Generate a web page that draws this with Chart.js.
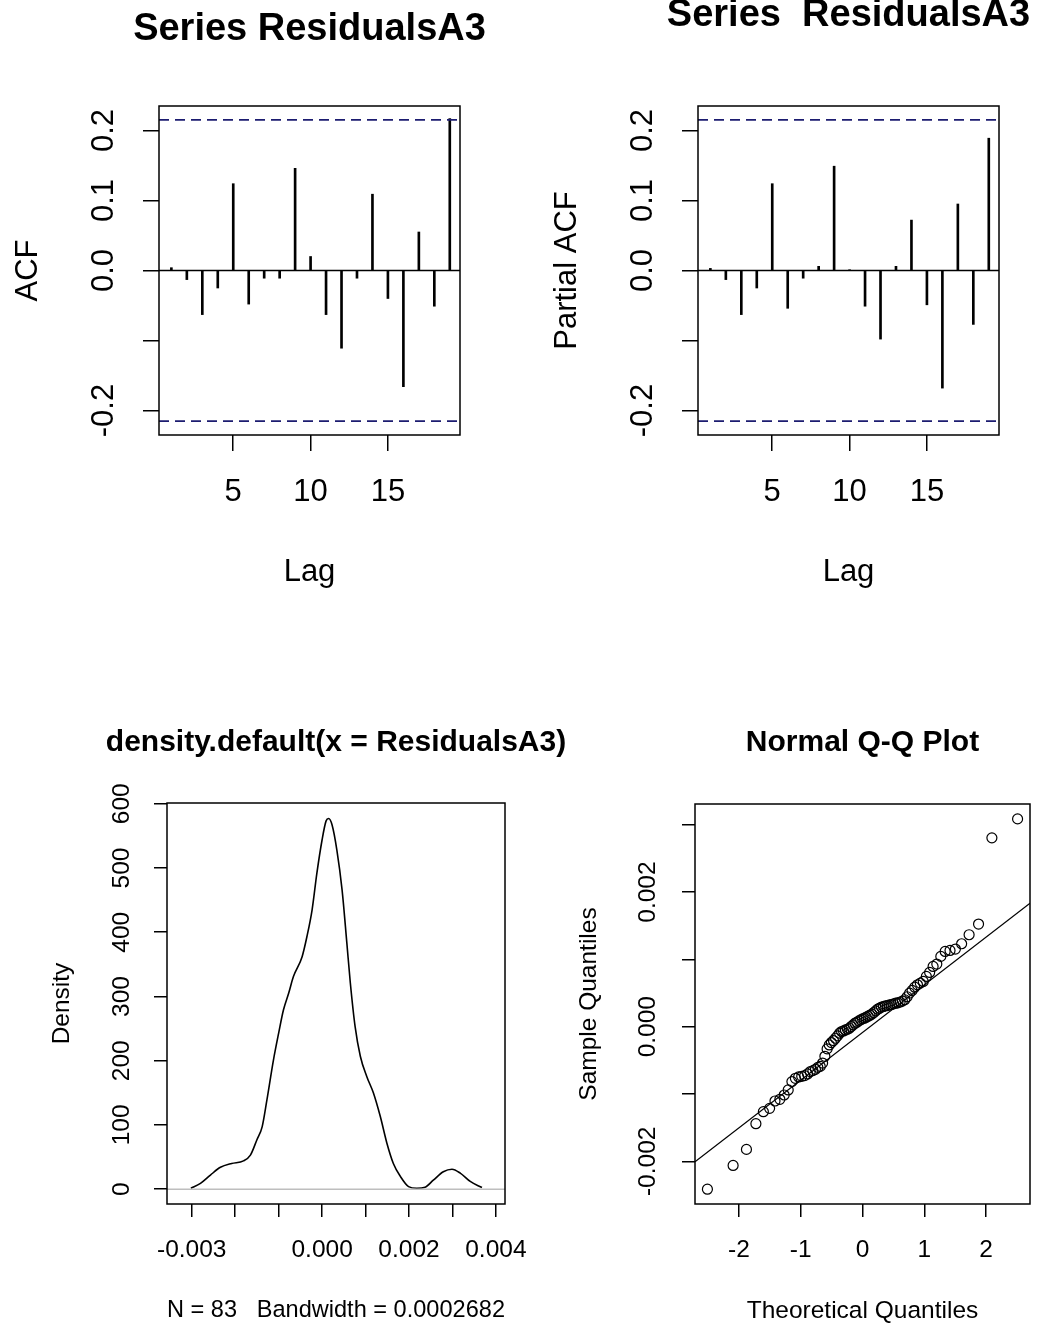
<!DOCTYPE html>
<html><head><meta charset="utf-8">
<script src="https://cdn.jsdelivr.net/npm/chart.js@4.4.1/dist/chart.umd.min.js"></script>
<style>
html,body{margin:0;padding:0;background:#fff;}
body{width:1037px;height:1327px;position:relative;overflow:hidden;}
canvas{position:absolute;}
</style></head><body>
<canvas id="c1"></canvas>
<canvas id="c2"></canvas>
<canvas id="c3"></canvas>
<canvas id="c4"></canvas>
<script>
// ---------- data ----------
const acfLags = [1,2,3,4,5,6,7,8,9,10,11,12,13,14,15,16,17,18,19];
const acfValues = [0.004,-0.013,-0.063,-0.025,0.124,-0.048,-0.011,-0.011,0.146,0.020,-0.063,-0.111,-0.011,0.109,-0.040,-0.166,0.055,-0.051,0.217];
const pacfValues = [0.003,-0.013,-0.063,-0.025,0.124,-0.054,-0.011,0.006,0.149,0.001,-0.051,-0.098,0.006,0.072,-0.049,-0.168,0.095,-0.077,0.189];
const confLimit = 0.2151;
const lagTicks = [5,10,15];
const acfYTicks = [-0.2,-0.1,0,0.1,0.2];
const acfYTickLabels = [-0.2,0,0.1,0.2];

const densityX = [-0.00302,-0.00280,-0.00257,-0.00234,-0.00208,-0.00181,-0.00165,-0.00150,-0.00138,-0.00127,-0.00112,-0.00100,-0.00089,-0.00077,-0.00066,-0.00046,-0.00035,-0.00023,-0.00012,0.00000,0.00009,0.00015,0.00023,0.00034,0.00046,0.00057,0.00065,0.00076,0.00088,0.00103,0.00118,0.00134,0.00149,0.00164,0.00180,0.00199,0.00218,0.00237,0.00256,0.00279,0.00299,0.00318,0.00341,0.00368];
const densityY = [1.5,9,22,34,40,44,53,77,97,139,201,243,279,305,331,362,393,435,492,544,573,577,567,528,466,383,321,253,207,175,150,113,72,40,20,4,1.5,3,14,27,31,25,12,2.5];
const densityXTicks = [-0.003,-0.002,-0.001,0,0.001,0.002,0.003,0.004];
const densityXTickLabels = [-0.003,0,0.002,0.004];
const densityYTicks = [0,100,200,300,400,500,600];

const qqTheoretical = [-2.511,-2.095,-1.879,-1.726,-1.605,-1.504,-1.417,-1.338,-1.268,-1.203,-1.143,-1.087,-1.034,-0.984,-0.936,-0.890,-0.846,-0.803,-0.762,-0.723,-0.684,-0.646,-0.609,-0.573,-0.538,-0.504,-0.470,-0.437,-0.404,-0.371,-0.339,-0.307,-0.276,-0.245,-0.214,-0.183,-0.152,-0.121,-0.091,-0.060,-0.030,0,0.030,0.060,0.091,0.121,0.152,0.183,0.214,0.245,0.276,0.307,0.339,0.371,0.404,0.437,0.470,0.504,0.538,0.573,0.609,0.646,0.684,0.723,0.762,0.803,0.846,0.890,0.936,0.984,1.034,1.087,1.143,1.203,1.268,1.338,1.417,1.504,1.605,1.726,1.879,2.095,2.511];
const qqSample = [-0.002414,-0.002061,-0.001823,-0.001441,-0.001263,-0.001213,-0.001104,-0.001079,-0.001015,-0.000940,-0.000816,-0.000767,-0.000747,-0.000737,-0.000727,-0.000702,-0.000668,-0.000653,-0.000633,-0.000605,-0.000590,-0.000540,-0.000440,-0.000330,-0.000271,-0.000236,-0.000206,-0.000172,-0.000137,-0.000097,-0.000072,-0.000063,-0.000048,-0.000038,-0.000023,0.000002,0.000027,0.000052,0.000066,0.000086,0.000101,0.000116,0.000126,0.000141,0.000156,0.000171,0.000186,0.000210,0.000235,0.000260,0.000275,0.000290,0.000300,0.000310,0.000314,0.000324,0.000329,0.000339,0.000349,0.000355,0.000367,0.000380,0.000400,0.000445,0.000498,0.000538,0.000587,0.000622,0.000647,0.000672,0.000746,0.000806,0.000895,0.000930,0.001044,0.001118,0.001133,0.001153,0.001232,0.001366,0.001525,0.002805,0.003087];
const qqXTicks = [-2,-1,0,1,2];
const qqYTicks = [-0.002,-0.001,0,0.001,0.002,0.003];
const qqYTickLabels = [-0.002,0,0.002];

// ---------- helpers ----------
const FONT = '"Liberation Sans", Arial, Helvetica, sans-serif';
const boxPlugin = {id:'rbox', afterDatasetsDraw(chart){
  const a = chart.chartArea, c = chart.ctx;
  c.save(); c.strokeStyle = '#000'; c.lineWidth = 1.5;
  c.strokeRect(a.left, a.top, a.right - a.left, a.bottom - a.top);
  c.restore();
}};
const near = (v, arr) => arr.some(t => Math.abs(t - v) < 1e-9);
function textWidth(txt, size){
  const c = document.createElement('canvas').getContext('2d');
  c.font = size + 'px ' + FONT;
  return c.measureText(txt).width;
}
// p.page: plot box in page coords; p.cLeft/p.cTop/p.H: canvas origin and height.
// The canvas is symmetric around the plot centre (an empty right-hand spacer axis balances
// the left axis) so the full-width title is centred on the plot, as in R.
function panel(id, p){
  const cv = document.getElementById(id);
  const pg = p.page;
  const W = Math.round(2 * ((pg.left + pg.right) / 2 - p.cLeft));
  const H = p.H;
  cv.width = W; cv.height = H;
  cv.style.left = p.cLeft + 'px'; cv.style.top = p.cTop + 'px';
  const a = {left:pg.left - p.cLeft, right:pg.right - p.cLeft, top:pg.top - p.cTop, bottom:pg.bottom - p.cTop};
  const tlh = p.titleSize * 1.2, alh = p.axisSize * 1.2;
  const titleY = p.titleY - p.cTop, xLabelY = p.xLabelY - p.cTop, xTitleY = p.xTitleY - p.cTop;
  const yLabelX = p.yLabelX - p.cLeft, yTitleX = p.yTitleX - p.cLeft;
  const yLabs = p.yTicks.map(v => near(v, p.yLabels) ? p.yFmt(v) : '');
  const widest = Math.max(...yLabs.map(s => textWidth(s, p.axisSize)));
  const gridCfg = {drawOnChartArea:false, drawTicks:true, tickLength:p.tickLen, color:'#000', lineWidth:1.5, offset:false};
  return new Chart(cv, {
    type: 'scatter',
    data: {datasets: p.datasets},
    options: {
      responsive:false, animation:false, devicePixelRatio:1,
      layout:{padding:0},
      plugins:{
        legend:{display:false}, tooltip:{enabled:false},
        title:{display:true, text:p.title, fullSize:true, color:'#000',
          font:{family:FONT, size:p.titleSize, weight:'bold', lineHeight:1.2},
          padding:{top:titleY - tlh/2, bottom:a.top - (titleY - tlh/2) - tlh}}
      },
      scales:{
        x:{type:'linear', position:'bottom', min:p.xMin, max:p.xMax, offset:false,
          afterFit(s){ s.height = H - a.bottom; },
          afterBuildTicks(s){ s.ticks = p.xTicks.map(v => ({value:v})); },
          border:{display:false}, grid:gridCfg,
          ticks:{autoSkip:false, maxRotation:0, color:'#000',
            font:{family:FONT, size:p.axisSize, lineHeight:1.2},
            padding:xLabelY - a.bottom - p.tickLen - alh/2,
            callback:(v) => near(v, p.xLabels) ? p.xFmt(v) : ''},
          title:{display:true, text:p.xTitle, color:'#000',
            font:{family:FONT, size:p.axisSize, lineHeight:1.2},
            padding:{top:0, bottom:H - xTitleY - alh/2}}
        },
        y:{type:'linear', position:'left', min:p.yMin, max:p.yMax, offset:false,
          afterFit(s){ s.width = a.left; },
          afterBuildTicks(s){ s.ticks = p.yTicks.map(v => ({value:v})); },
          border:{display:false}, grid:gridCfg,
          ticks:{autoSkip:false, minRotation:90, maxRotation:90, crossAlign:'center', color:'#000',
            font:{family:FONT, size:p.axisSize, lineHeight:1.2},
            padding:a.left - p.tickLen - yLabelX - widest/2,
            callback:(v) => near(v, p.yLabels) ? p.yFmt(v) : ''},
          title:{display:true, text:p.yTitle, color:'#000',
            font:{family:FONT, size:p.axisSize, lineHeight:1.2},
            padding:{top:yTitleX - alh/2, bottom:0}}
        },
        spacer:{type:'linear', position:'right', display:true,
          afterFit(s){ s.width = W - a.right; },
          border:{display:false}, grid:{display:false}, ticks:{display:false}, title:{display:false}}
      }
    },
    plugins:[boxPlugin]
  });
}

// ---------- ACF / PACF ----------
const lagMin = 0.2, lagMax = 19.66, corrMin = -0.235, corrMax = 0.235;
const CI_COLOR = '#1c1c70';
function corrDatasets(vals){
  return [
    {type:'line', data:[{x:lagMin,y:0},{x:lagMax,y:0}], borderColor:'#000', borderWidth:1.5, pointRadius:0},
    {type:'line', data:[{x:lagMin,y:confLimit},{x:lagMax,y:confLimit}], borderColor:CI_COLOR, borderWidth:1.8, borderDash:[10,6], pointRadius:0},
    {type:'line', data:[{x:lagMin,y:-confLimit},{x:lagMax,y:-confLimit}], borderColor:CI_COLOR, borderWidth:1.8, borderDash:[10,6], pointRadius:0},
    {type:'bar', data:acfLags.map((l,i) => ({x:l, y:vals[i]})), backgroundColor:'#000', borderWidth:0, barThickness:2}
  ];
}
const corrCommon = {xMin:lagMin, xMax:lagMax, yMin:corrMin, yMax:corrMax,
  xTicks:lagTicks, xLabels:lagTicks, xFmt:v => String(v),
  yTicks:acfYTicks, yLabels:acfYTickLabels, yFmt:v => v.toFixed(1),
  xTitle:'Lag', titleSize:38, axisSize:31, tickLen:16, xLabelY:492, xTitleY:572, cTop:0, H:660};

panel('c1', Object.assign({}, corrCommon, {
  page:{left:159, right:460, top:106, bottom:435}, cLeft:0, title:'Series ResidualsA3', titleY:30,
  yTitle:'ACF', yLabelX:104, yTitleX:28, datasets:corrDatasets(acfValues)}));
panel('c2', Object.assign({}, corrCommon, {
  page:{left:698, right:999, top:106, bottom:435}, cLeft:540, title:'Series  ResidualsA3', titleY:16,
  yTitle:'Partial ACF', yLabelX:643, yTitleX:567, datasets:corrDatasets(pacfValues)}));

// ---------- density ----------
const dxMin = -0.00357, dxMax = 0.00421, dyMin = -23.1, dyMax = 601.2;
panel('c3', {
  page:{left:167, right:505, top:803, bottom:1204}, cLeft:0, cTop:660, H:667,
  title:'density.default(x = ResidualsA3)', titleY:743, titleSize:30, axisSize:24.5, tickLen:13,
  xMin:dxMin, xMax:dxMax, yMin:dyMin, yMax:dyMax,
  xTicks:densityXTicks, xLabels:densityXTickLabels, xFmt:v => v.toFixed(3),
  yTicks:densityYTicks, yLabels:densityYTicks, yFmt:v => String(v),
  xTitle:'N = 83   Bandwidth = 0.0002682', xLabelY:1250, xTitleY:1310,
  yTitle:'Density', yLabelX:122, yTitleX:62,
  datasets:[
    {type:'line', data:[{x:dxMin,y:0},{x:dxMax,y:0}], borderColor:'#bebebe', borderWidth:1.5, pointRadius:0},
    {type:'line', data:densityX.map((x,i) => ({x:x, y:densityY[i]})), borderColor:'#000', borderWidth:1.6,
      pointRadius:0, cubicInterpolationMode:'monotone'}
  ]
});

// ---------- Normal Q-Q ----------
function quantile7(sorted, p){
  const h = (sorted.length - 1) * p, lo = Math.floor(h);
  return sorted[lo] + (h - lo) * (sorted[Math.min(lo + 1, sorted.length - 1)] - sorted[lo]);
}
const zq = 0.6744898;
const qSorted = qqSample.slice().sort((a,b) => a - b);
const q1 = quantile7(qSorted, 0.25), q3 = quantile7(qSorted, 0.75);
const qqSlope = (q3 - q1) / (2 * zq), qqIntercept = q1 + qqSlope * zq;
const qxMin = -2.712, qxMax = 2.712, qyMin = -0.002634, qyMax = 0.003308;
panel('c4', {
  page:{left:695, right:1030, top:804, bottom:1204}, cLeft:540, cTop:660, H:667,
  title:'Normal Q-Q Plot', titleY:743, titleSize:30, axisSize:24.5, tickLen:13,
  xMin:qxMin, xMax:qxMax, yMin:qyMin, yMax:qyMax,
  xTicks:qqXTicks, xLabels:qqXTicks, xFmt:v => String(v),
  yTicks:qqYTicks, yLabels:qqYTickLabels, yFmt:v => v.toFixed(3),
  xTitle:'Theoretical Quantiles', xLabelY:1250, xTitleY:1311,
  yTitle:'Sample Quantiles', yLabelX:648, yTitleX:589,
  datasets:[
    {type:'line', data:[{x:qxMin,y:qqIntercept + qqSlope*qxMin},{x:qxMax,y:qqIntercept + qqSlope*qxMax}],
      borderColor:'#000', borderWidth:1.2, pointRadius:0},
    {type:'scatter', data:qqTheoretical.map((t,i) => ({x:t, y:qqSample[i]})),
      pointRadius:5, pointBorderColor:'#000', pointBackgroundColor:'rgba(0,0,0,0)', pointBorderWidth:1.2}
  ]
});
</script>
</body></html>
